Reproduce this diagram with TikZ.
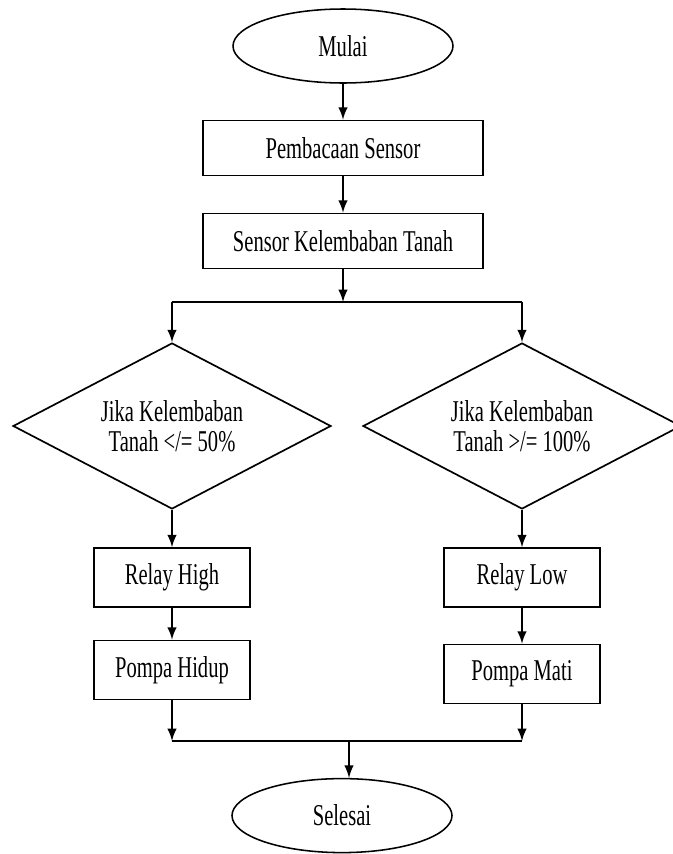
\documentclass[tikz,border=0pt]{standalone}
\usepackage{fontspec}
\setmainfont[FakeStretch=0.68]{Liberation Serif}
\usetikzlibrary{shapes.geometric}

\begin{document}
\begin{tikzpicture}[
		font=\fontsize{21.5}{21.5}\selectfont,
		terminal/.style={ellipse, draw, line width=1.1pt, minimum width=5.5cm, minimum height=1.85cm, inner sep=0pt},
		process/.style={rectangle, draw, line width=1.2pt, minimum width=7cm, minimum height=1.375cm, inner sep=0pt},
		action/.style={rectangle, draw, line width=1.2pt, minimum width=3.9cm, minimum height=1.475cm, inner sep=0pt},
		decision/.style={diamond, draw, line width=1.2pt, aspect=2, minimum width=7.95cm, minimum height=4.15cm, inner sep=0pt, align=center},
		flow/.style={-latex, line width=2pt},
		bus/.style={line width=2pt},
	]
		\useasboundingbox (0,0) rectangle (16.825,-21.35);
	
		% start and the reading steps
		\node[terminal] (mulai) at (8.575,-1.15) {Mulai};
		\node[process] (baca) at (8.575,-3.7) {Pembacaan Sensor};
		\node[process] (sensor) at (8.575,-6.025) {Sensor Kelembaban Tanah};
	
		% the two conditions
		\coordinate (split) at (8.575,-7.55);
		\coordinate (splitL) at (4.3,-7.55);
		\coordinate (splitR) at (13.05,-7.55);
		\node[decision] (kering) at (4.3,-10.65) {Jika Kelembaban\\Tanah </= 50\%};
		\node[decision] (basah) at (13.05,-10.65) {Jika Kelembaban\\Tanah >/= 100\%};
	
		% relay and pump
		\node[action] (high) at (4.3,-14.44) {Relay High};
		\node[action] (hidup) at (4.3,-16.75) {Pompa Hidup};
		\node[action] (low) at (13.05,-14.44) {Relay Low};
		\node[action] (mati) at (13.05,-16.85) {Pompa Mati};
	
		% end
		\coordinate (mergeL) at (4.3,-18.525);
		\coordinate (mergeR) at (13.05,-18.525);
		\coordinate (merge) at (8.725,-18.525);
		\node[terminal] (selesai) at (8.55,-20.39) {Selesai};
	
		% draw the arrows
		\draw[flow] (mulai) -- (baca);
		\draw[flow] (baca) -- (sensor);
		\draw[flow] (sensor) -- (split);
		\draw[bus] (splitL) -- (splitR);
		\draw[flow] (splitL) -- (kering);
		\draw[flow] (splitR) -- (basah);
		\draw[flow] (kering) -- (high);
		\draw[flow] (high) -- (hidup);
		\draw[flow] (basah) -- (low);
		\draw[flow] (low) -- (mati);
		\draw[flow] (hidup) -- (mergeL);
		\draw[flow] (mati) -- (mergeR);
		\draw[bus] (mergeL) -- (mergeR);
		\draw[flow] (merge) -- (merge |- selesai.north);
	
	\end{tikzpicture}
\end{document}
